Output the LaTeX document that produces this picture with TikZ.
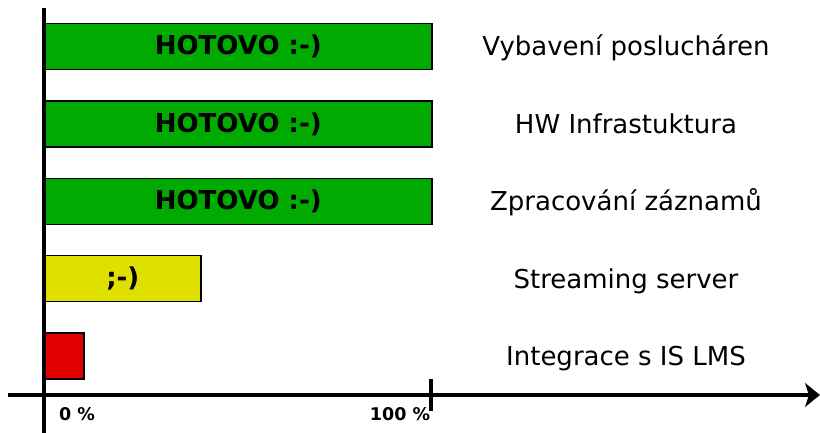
\documentclass[tikz,border=0pt]{standalone}
\usepackage{fontspec}
\setmainfont{DejaVu Sans}
\usetikzlibrary{arrows.meta,positioning}
\definecolor{donegreen}{RGB}{0,170,0}
\definecolor{halfyellow}{RGB}{224,224,0}
\definecolor{startred}{RGB}{224,0,0}
\tikzset{bar node/.style={rectangle, draw=black, line width=1.6pt, anchor=west,
    minimum height=46pt, inner sep=0pt, font=\bfseries\fontsize{26}{30}\selectfont}}
\tikzset{task node/.style={font=\fontsize{26}{30}\selectfont, text height=19pt, text depth=5pt}}
\tikzset{scale node/.style={font=\bfseries\fontsize{17.5}{20}\selectfont}}
\tikzset{axis edge/.style={draw=black, line width=3.4pt}}

\begin{document}
\begin{tikzpicture}[x=1pt, y=-1pt]
          \useasboundingbox (0,0) rectangle (820,433);
          % progress bars
          \node [bar node, fill=donegreen,  minimum width=387pt] (bar1) at (44, 46.5)  {HOTOVO :-)};
          \node [bar node, fill=donegreen,  minimum width=387pt] (bar2) at (44, 124)   {HOTOVO :-)};
          \node [bar node, fill=donegreen,  minimum width=387pt] (bar3) at (44, 201.5) {HOTOVO :-)};
          \node [bar node, fill=halfyellow, minimum width=156pt] (bar4) at (44, 278.5) {;-)};
          \node [bar node, fill=startred,   minimum width=39pt]  (bar5) at (44, 356)   {};

          % tasks
          \node [task node] (task1) at (626, 48.5)  {Vybavení poslucháren};
          \node [task node] (task2) at (626, 127)   {HW Infrastuktura};
          \node [task node] (task3) at (626, 204)   {Zpracování záznamů};
          \node [task node] (task4) at (626, 281)   {Streaming server};
          \node [task node] (task5) at (626, 358)   {Integrace s IS LMS};

          % axes
          \coordinate (ytop)    at (44, 8);
          \coordinate (ybottom) at (44, 433);
          \coordinate (xleft)   at (8, 395);
          \coordinate (xright)  at (820, 395);
          \coordinate (ticktop)    at (431, 379);
          \coordinate (tickbottom) at (431, 411);
          \draw [axis edge] (ytop) -- (ybottom);
          \draw [axis edge, -{Stealth[length=15pt, width=24pt, inset=4pt]}] (xleft) -- (xright);
          \draw [axis edge] (ticktop) -- (tickbottom);

          \node [scale node] (zero)    at (77, 414)  {0 \%};
          \node [scale node] (hundred) at (400, 414) {100 \%};
        \end{tikzpicture}
\end{document}
